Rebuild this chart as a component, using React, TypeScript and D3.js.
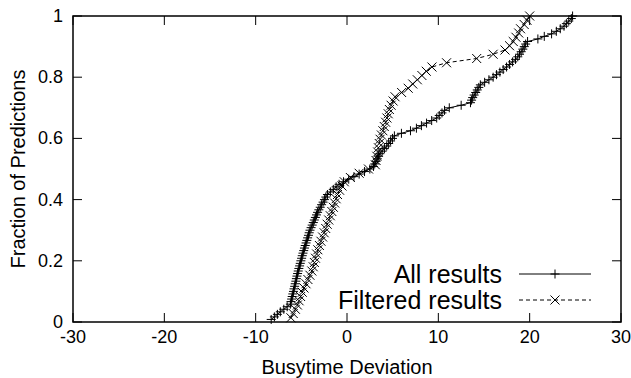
import React from "react";
import * as d3 from "d3";

// Sorted busytime deviations (empirical CDF: y = rank / n)
const allResults: number[] = [
  -8.3, -7.95, -7.62, -7.3, -6.92, -6.55, -6.2, -6.13, -6.06, -6.0,
  -5.93, -5.86, -5.8, -5.73, -5.67, -5.6, -5.54, -5.48, -5.41, -5.34,
  -5.27, -5.19, -5.12, -5.05, -4.97, -4.9, -4.82, -4.74, -4.66, -4.57,
  -4.48, -4.4, -4.31, -4.22, -4.14, -4.05, -3.93, -3.81, -3.69, -3.58,
  -3.46, -3.34, -3.22, -3.08, -2.93, -2.78, -2.62, -2.47, -2.32, -2.14,
  -1.82, -1.5, -1.19, -0.87, -0.38, 0.19, 0.76, 1.33, 1.92, 2.5,
  2.9, 3.04, 3.18, 3.32, 3.46, 3.6, 3.85, 4.1, 4.35, 4.56,
  4.77, 4.98, 5.19, 5.96, 6.95, 7.6, 8.15, 8.71, 9.27, 9.82,
  10.1, 10.4, 10.68, 11.2, 12.5, 13.52, 13.64, 13.76, 13.92, 14.09,
  14.26, 14.43, 14.6, 15.07, 15.54, 16.0, 16.37, 16.74, 17.1, 17.47,
  17.8, 18.13, 18.45, 18.7, 18.89, 19.07, 19.25, 19.41, 19.56, 19.77,
  20.9, 21.6, 22.4, 22.92, 23.35, 23.76, 24.02, 24.28, 24.56, 24.7,
];

const filteredResults: number[] = [
  -6.14, -5.89, -5.65, -5.43, -5.25, -5.08, -4.9, -4.71, -4.49, -4.28,
  -4.06, -3.85, -3.7, -3.57, -3.45, -3.32, -3.19, -3.02, -2.85, -2.67,
  -2.5, -2.33, -2.17, -2.0, -1.83, -1.66, -1.5, -1.35, -1.19, -1.04,
  -0.81, -0.55, -0.3, 0.37, 1.33, 2.35, 3.1, 3.18, 3.27, 3.36,
  3.44, 3.53, 3.62, 3.77, 3.93, 4.08, 4.23, 4.37, 4.51, 4.64,
  4.83, 5.05, 5.26, 5.98, 6.7, 7.2, 7.7, 8.2, 8.68, 9.3,
  10.9, 14.2, 16.0, 17.3, 17.8, 18.2, 18.5, 18.8, 19.0, 19.4,
  19.7, 20.0,
];

const xTicks: number[] = [-30, -20, -10, 0, 10, 20, 30];
const yTicks: number[] = [0, 0.2, 0.4, 0.6, 0.8, 1];
const yTickLabels: string[] = ["0", "0.2", "0.4", "0.6", "0.8", "1"];
const seriesNames: string[] = ["All results", "Filtered results"];
const xTitle = "Busytime Deviation";
const yTitle = "Fraction of Predictions";

const W = 631;
const H = 378;
const M = { left: 73, right: 621, top: 16, bottom: 322 };
const FONT = "'Liberation Sans', Arial, Helvetica, sans-serif";

function cdf(vals: number[]): [number, number][] {
  const n = vals.length;
  return vals.map((v, i) => [v, (i + 1) / n]);
}

export default function App() {
  const x = d3.scaleLinear().domain([-30, 30]).range([M.left, M.right]);
  const y = d3.scaleLinear().domain([0, 1]).range([M.bottom, M.top]);
  const line = d3
    .line<[number, number]>()
    .x((d) => x(d[0]))
    .y((d) => y(d[1]));

  const allPts = cdf(allResults);
  const filtPts = cdf(filteredResults);
  const s = 4.5;
  const plus = (cx: number, cy: number, k: string) => (
    <path key={k} d={`M${cx - s},${cy}H${cx + s}M${cx},${cy - s}V${cy + s}`} stroke="#000" strokeWidth={1} />
  );
  const cross = (cx: number, cy: number, k: string) => (
    <path
      key={k}
      d={`M${cx - s},${cy - s}L${cx + s},${cy + s}M${cx - s},${cy + s}L${cx + s},${cy - s}`}
      stroke="#000"
      strokeWidth={1}
    />
  );
  const tickLen = 9;
  const legX1 = 519;
  const legX2 = 591;
  const legY = [274, 300];

  return (
    <svg
      width={W}
      height={H}
      style={{ position: "absolute", left: 0, top: 0, background: "#fff" }}
      fontFamily={FONT}
    >
      <rect x={0} y={0} width={W} height={H} fill="#fff" />
      {/* ticks */}
      {xTicks.map((t) => (
        <g key={"xt" + t}>
          <line x1={x(t)} x2={x(t)} y1={M.bottom} y2={M.bottom - tickLen} stroke="#000" />
          <line x1={x(t)} x2={x(t)} y1={M.top} y2={M.top + tickLen} stroke="#000" />
          <text x={x(t)} y={M.bottom + 21} textAnchor="middle" fontSize={18}>
            {t}
          </text>
        </g>
      ))}
      {yTicks.map((t, i) => (
        <g key={"yt" + t}>
          <line x1={M.left} x2={M.left + tickLen} y1={y(t)} y2={y(t)} stroke="#000" />
          <line x1={M.right} x2={M.right - tickLen} y1={y(t)} y2={y(t)} stroke="#000" />
          <text x={M.left - 10} y={y(t) + 6} textAnchor="end" fontSize={18}>
            {yTickLabels[i]}
          </text>
        </g>
      ))}
      <rect
        x={M.left}
        y={M.top}
        width={M.right - M.left}
        height={M.bottom - M.top}
        fill="none"
        stroke="#000"
        strokeWidth={1.5}
      />
      {/* series */}
      <path d={line(allPts) || ""} fill="none" stroke="#000" strokeWidth={1} />
      {allPts.map((d, i) => plus(x(d[0]), y(d[1]), "a" + i))}
      <path d={line(filtPts) || ""} fill="none" stroke="#000" strokeWidth={1} strokeDasharray="4,3" />
      {filtPts.map((d, i) => cross(x(d[0]), y(d[1]), "f" + i))}
      {/* legend */}
      {seriesNames.map((name, i) => (
        <g key={name}>
          <text x={502} y={legY[i] + 9} textAnchor="end" fontSize={25}>
            {name}
          </text>
          <line
            x1={legX1}
            x2={legX2}
            y1={legY[i]}
            y2={legY[i]}
            stroke="#000"
            strokeDasharray={i === 1 ? "4,3" : undefined}
          />
          {i === 0 ? plus((legX1 + legX2) / 2, legY[i], "lp") : cross((legX1 + legX2) / 2, legY[i], "lc")}
        </g>
      ))}
      {/* titles */}
      <text x={(M.left + M.right) / 2} y={374} textAnchor="middle" fontSize={20}>
        {xTitle}
      </text>
      <text
        transform={`translate(25, ${(M.top + M.bottom) / 2}) rotate(-90)`}
        textAnchor="middle"
        fontSize={20}
      >
        {yTitle}
      </text>
    </svg>
  );
}
